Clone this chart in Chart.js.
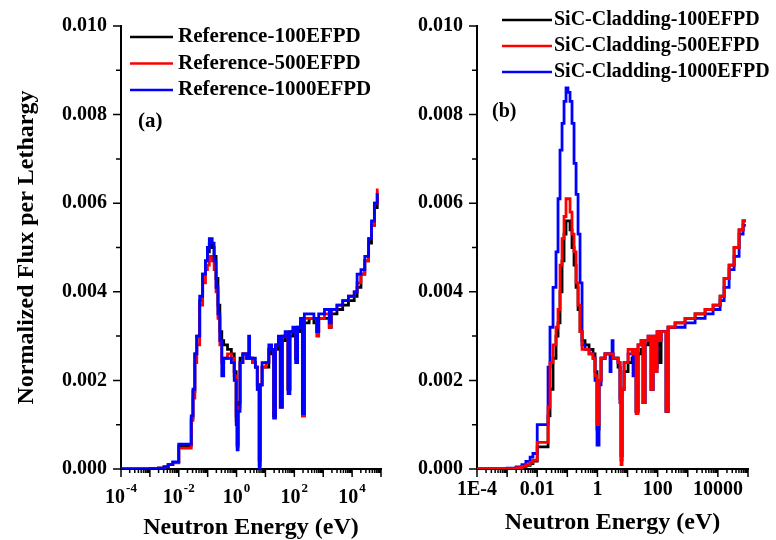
<!DOCTYPE html>
<html>
<head>
<meta charset="utf-8">
<script src="https://cdn.jsdelivr.net/npm/chart.js@4/dist/chart.umd.min.js"></script>
<style>
  html, body { margin: 0; padding: 0; background: #fff; }
  #wrap { position: relative; width: 776px; height: 540px; }
  .panel { position: absolute; top: 0; height: 540px; }
</style>
</head>
<body>
<div id="wrap">
  <div class="panel" style="left:0;width:400px"><canvas id="chartA"></canvas></div>
  <div class="panel" style="left:400px;width:376px"><canvas id="chartB"></canvas></div>
</div>
<script>
const FONT = "'Liberation Serif', 'Times New Roman', serif";

// (a) reference core - bin start energies (eV) and flux per lethargy
const energyA = [1e-4, 1e-3, 2e-3, 3.1e-3, 4.3e-3, 6.2e-3, 0.01, 0.027, 0.031, 0.036, 0.042, 0.053, 0.067, 0.084,
  0.098, 0.114, 0.143, 0.167, 0.195, 0.227, 0.264, 0.308, 0.359, 0.487, 0.66, 0.83, 0.97, 1.05, 1.13, 1.32, 1.66,
  2.25, 2.62, 2.83, 3.56, 4.48, 5.22, 6.08, 6.57, 7.65, 10.4, 13.1, 16.4, 19.2, 22.3, 28.1, 32.7, 38.1, 48, 60.4,
  70.3, 88.5, 111, 130, 163, 190, 222, 325, 476, 599, 698, 1105, 1620, 1888, 2986, 4724, 7474, 11830, 14890,
  20230, 27480, 37280, 46900, 59000, 74200, 82000];
const ref100 = [0, 0.00001, 0.00002, 0.00005, 0.0001, 0.00015, 0.00052, 0.00115, 0.00175, 0.0026, 0.0030, 0.0038, 0.0044, 0.0047,
  0.0049, 0.0051, 0.0050, 0.0048, 0.0043, 0.0037, 0.0031, 0.0029, 0.0028, 0.0027, 0.0026, 0.0022, 0.0012, 0.00055, 0.0015, 0.0025, 0.0026,
  0.0025, 0.0025, 0.0025, 0.0024, 0.0023, 0.0019, 0.0002, 0.0019, 0.0023, 0.0023, 0.0027, 0.0026, 0.0012, 0.0027, 0.0029, 0.0014, 0.0029, 0.0030, 0.0018,
  0.0030, 0.0031, 0.0025, 0.0031, 0.0033, 0.0012, 0.0033, 0.0034, 0.0033, 0.0031, 0.0034, 0.0034, 0.0032, 0.0035, 0.0036, 0.0037, 0.0038, 0.0039, 0.0041,
  0.0044, 0.0047, 0.0051, 0.0055, 0.0059, 0.0062, 0.0062];
const ref500 = [0, 0.00001, 0.00002, 0.00005, 0.0001, 0.00014, 0.00047, 0.0011, 0.0016, 0.0024, 0.0028, 0.0037, 0.0042, 0.0045,
  0.0046, 0.0048, 0.0047, 0.0045, 0.0040, 0.0034, 0.0028, 0.0024, 0.0025, 0.0026, 0.0025, 0.0021, 0.0011, 0.0005, 0.0014, 0.0024, 0.0026,
  0.0025, 0.0025, 0.0025, 0.0024, 0.0023, 0.0018, 0.0001, 0.0019, 0.0023, 0.0024, 0.0027, 0.0027, 0.0012, 0.0028, 0.0029, 0.0014, 0.0030, 0.0030, 0.0018,
  0.0031, 0.0031, 0.0025, 0.0032, 0.0033, 0.0012, 0.0034, 0.0034, 0.0034, 0.0030, 0.0034, 0.0035, 0.0032, 0.0036, 0.0037, 0.0038, 0.0039, 0.0040, 0.0042,
  0.0044, 0.0047, 0.0052, 0.0055, 0.0060, 0.0063, 0.0063];
const ref1000 = [0, 0.00001, 0.00002, 0.00005, 0.0001, 0.00016, 0.00056, 0.0012, 0.0018, 0.0026, 0.0030, 0.0039, 0.0044, 0.0047,
  0.0050, 0.0052, 0.0051, 0.0047, 0.0041, 0.0035, 0.0029, 0.0021, 0.0025, 0.0025, 0.0024, 0.0020, 0.0010, 0.00043, 0.0013, 0.0024, 0.0026,
  0.0025, 0.0030, 0.0025, 0.0025, 0.0023, 0.0018, 0.00003, 0.0019, 0.0024, 0.0024, 0.0028, 0.0027, 0.00115, 0.0028, 0.0030, 0.0014, 0.0030, 0.0031, 0.0017,
  0.0031, 0.0032, 0.0024, 0.0032, 0.0034, 0.00125, 0.0035, 0.0035, 0.0034, 0.0031, 0.0035, 0.0036, 0.0033, 0.0036, 0.0037, 0.0038, 0.0039, 0.0040, 0.0044,
  0.0045, 0.0048, 0.0052, 0.0056, 0.0060, 0.0062, 0.0062];

// (b) SiC cladding
const energyB = [1e-4, 1e-3, 2e-3, 3.1e-3, 4.2e-3, 5.8e-3, 7.2e-3, 0.01, 0.0229, 0.0266, 0.0335, 0.0421, 0.0491, 0.0572,
  0.0667, 0.0777, 0.0905, 0.105, 0.123, 0.143, 0.167, 0.195, 0.227, 0.264, 0.308, 0.387, 0.526, 0.714, 0.832, 0.97,
  1.13, 1.32, 1.79, 2.43, 2.62, 2.83, 3.06, 3.30, 4.83, 5.63, 6.08, 6.57, 7.65, 10.4, 14.1, 15.2, 16.4, 19.2, 22.3,
  28.1, 32.7, 38.1, 48, 60.4, 70.3, 82, 95.5, 111, 130, 190, 222, 379, 813, 1750, 3760, 6930, 11830, 16080, 23560,
  34540, 50600, 68700, 85000];
const sic100 = [0, 0.00001, 0.00003, 0.00005, 0.00008, 0.00012, 0.00018, 0.0005, 0.0012, 0.0018, 0.0025, 0.0030, 0.0033, 0.0040,
  0.0047, 0.0053, 0.0056, 0.0056, 0.0054, 0.0050, 0.0046, 0.0041, 0.0036, 0.0031, 0.0029, 0.0028, 0.0027, 0.0026, 0.0022, 0.0009,
  0.0020, 0.0025, 0.0026, 0.0026, 0.0026, 0.0026, 0.0026, 0.0025, 0.0023, 0.0016, 0.0003, 0.0018, 0.0022, 0.0024, 0.0025, 0.0025, 0.0025, 0.0013, 0.0026,
  0.0027, 0.0015, 0.0028, 0.0029, 0.0018, 0.0029, 0.0023, 0.0030, 0.0024, 0.0031, 0.0013, 0.0032, 0.0033, 0.0034, 0.0035, 0.0036, 0.0037, 0.0039, 0.0043, 0.0046,
  0.0050, 0.0054, 0.0056, 0.0056];
const sic500 = [0, 0.00001, 0.00003, 0.00006, 0.0001, 0.00015, 0.0002, 0.0006, 0.0014, 0.0024, 0.0028, 0.0032, 0.0036, 0.0046,
  0.0052, 0.0057, 0.0061, 0.0061, 0.0058, 0.0053, 0.0049, 0.0042, 0.0037, 0.0031, 0.0027, 0.0027, 0.0026, 0.0025, 0.0021, 0.0010,
  0.0020, 0.0025, 0.0026, 0.0026, 0.0026, 0.0026, 0.0026, 0.0025, 0.0024, 0.0015, 0.0001, 0.0018, 0.0024, 0.0027, 0.0026, 0.0026, 0.0027, 0.00125, 0.0028,
  0.0029, 0.0015, 0.0029, 0.0030, 0.0018, 0.0030, 0.0022, 0.0031, 0.0029, 0.0031, 0.0013, 0.0032, 0.0033, 0.0034, 0.0035, 0.0036, 0.0037, 0.0039, 0.0043, 0.0046,
  0.0050, 0.0054, 0.0056, 0.0056];
const sic1000 = [0, 0.00002, 0.00005, 0.0001, 0.00017, 0.00027, 0.00035, 0.0010, 0.0023, 0.0032, 0.0041, 0.0049, 0.0061, 0.0072,
  0.0078, 0.0083, 0.0086, 0.0085, 0.0083, 0.0078, 0.0069, 0.0062, 0.0053, 0.0042, 0.0028, 0.0027, 0.0026, 0.0025, 0.0020, 0.00054,
  0.0019, 0.0025, 0.0026, 0.0026, 0.0022, 0.0026, 0.0029, 0.0025, 0.0024, 0.0015, 0.0002, 0.0018, 0.0024, 0.0026, 0.0026, 0.0021, 0.0026, 0.0013, 0.0028,
  0.0029, 0.0015, 0.0029, 0.0030, 0.0018, 0.0030, 0.0022, 0.0031, 0.0029, 0.0031, 0.0013, 0.0032, 0.0032, 0.0033, 0.0034, 0.0035, 0.0036, 0.0038, 0.0041, 0.0045,
  0.0048, 0.0053, 0.0055, 0.0055];

const labelsA = ['Reference-100EFPD', 'Reference-500EFPD', 'Reference-1000EFPD'];
const labelsB = ['SiC-Cladding-100EFPD', 'SiC-Cladding-500EFPD', 'SiC-Cladding-1000EFPD'];
const seriesColors = ['#000000', '#ff0000', '#0000ff'];

// labelled decades; panel (a) writes them as powers of ten
const majorX = [1e-4, 1e-2, 1, 1e2, 1e4];
const tickExpA = ['-4', '-2', '0', '2', '4'];
const tickTextB = ['1E-4', '0.01', '1', '100', '10000'];

Chart.defaults.font.family = FONT;
Chart.defaults.font.weight = 'bold';
Chart.defaults.color = '#000';

// every 1..9 x 10^k between 1e-4 and 1e5
const xTickValues = [];
for (let k = -4; k <= 4; k++) {
  for (let m = 1; m <= 9; m++) xTickValues.push(m * Math.pow(10, k));
}
xTickValues.push(1e5);

function toXY(energy, vals) {
  return energy.map((e, i) => ({x: e, y: vals[i]}));
}

function majorIndex(v) {
  return majorX.findIndex(m => Math.abs(Math.log10(m) - Math.log10(v)) < 1e-6);
}

const tickMarks = {
  id: 'tickMarks',
  afterDraw(chart) {
    const {ctx, chartArea: a, scales: {x, y}} = chart;
    ctx.save();
    ctx.strokeStyle = '#000';
    ctx.lineWidth = 1.5;
    ctx.beginPath();
    x.ticks.forEach(t => {
      const p = x.getPixelForValue(t.value);
      const lg = Math.log10(t.value);
      const len = Math.abs(lg - Math.round(lg)) < 1e-6 ? 8 : 4;
      ctx.moveTo(p, a.bottom);
      ctx.lineTo(p, a.bottom + len);
    });
    y.ticks.forEach(t => {
      const p = y.getPixelForValue(t.value);
      const len = Math.round(t.value * 1000) % 2 === 0 ? 8 : 5;
      ctx.moveTo(a.left - len, p);
      ctx.lineTo(a.left, p);
    });
    ctx.stroke();
    ctx.restore();
  }
};

// "10" with a raised exponent under each labelled decade
const powerLabels = {
  id: 'powerLabels',
  afterDraw(chart, args, opts) {
    if (!opts.exps) return;
    const {ctx, scales: {x}} = chart;
    ctx.save();
    ctx.fillStyle = '#000';
    ctx.textBaseline = 'alphabetic';
    ctx.textAlign = 'left';
    majorX.forEach((v, i) => {
      const px = x.getPixelForValue(v);
      ctx.font = 'bold 20px ' + FONT;
      const wBase = ctx.measureText('10').width;
      ctx.font = 'bold 13px ' + FONT;
      const wExp = ctx.measureText(opts.exps[i]).width;
      const x0 = px - (wBase + wExp + 1) / 2;
      ctx.font = 'bold 20px ' + FONT;
      ctx.fillText('10', x0, opts.baseY);
      ctx.font = 'bold 13px ' + FONT;
      ctx.fillText(opts.exps[i], x0 + wBase + 1, opts.baseY - 11);
    });
    ctx.restore();
  }
};

const lineLegend = {
  id: 'lineLegend',
  afterDraw(chart, args, opts) {
    const ctx = chart.ctx;
    ctx.save();
    ctx.font = 'bold ' + opts.size + 'px ' + FONT;
    ctx.textBaseline = 'middle';
    ctx.fillStyle = '#000';
    chart.data.datasets.forEach((ds, i) => {
      const yy = opts.y + i * opts.rowH;
      ctx.strokeStyle = ds.borderColor;
      ctx.lineWidth = 2.5;
      ctx.beginPath();
      ctx.moveTo(opts.x, yy);
      ctx.lineTo(opts.x + opts.len, yy);
      ctx.stroke();
      ctx.fillText(ds.label, opts.x + opts.len + opts.gap, yy);
    });
    ctx.fillText(opts.panel, opts.px, opts.py);
    ctx.restore();
  }
};

function makeChart(id, energy, series, labels, orders, cfg) {
  const datasets = series.map((vals, i) => ({
    label: labels[i],
    data: toXY(energy, vals),
    borderColor: seriesColors[i],
    backgroundColor: seriesColors[i],
    borderWidth: 2.8,
    pointRadius: 0,
    stepped: true,
    fill: false,
    order: orders[i]
  }));
  return new Chart(document.getElementById(id), {
    type: 'line',
    data: {datasets},
    options: {
      responsive: true,
      maintainAspectRatio: false,
      animation: false,
      layout: {padding: {top: 23, right: cfg.right, left: 0, bottom: 0}},
      plugins: {
        legend: {display: false},
        tooltip: {enabled: false},
        lineLegend: cfg.legend,
        powerLabels: {exps: cfg.exps, baseY: 503}
      },
      scales: {
        x: {
          type: 'logarithmic',
          min: 1e-4,
          max: 1e5,
          afterBuildTicks: s => { s.ticks = xTickValues.map(v => ({value: v})); },
          afterFit: s => { s.height = 71; },
          grid: {display: false, drawTicks: false},
          border: {display: true, color: '#000', width: 2},
          ticks: {
            autoSkip: false,
            maxRotation: 0,
            padding: cfg.xPad,
            font: {size: 20, weight: 'bold'},
            callback: v => {
              const i = majorIndex(v);
              return i >= 0 && cfg.tickText ? cfg.tickText[i] : '';
            }
          },
          title: {
            display: true,
            text: 'Neutron Energy (eV)',
            font: {size: 24, weight: 'bold', lineHeight: 1},
            padding: {top: 0, bottom: cfg.xTitlePad}
          }
        },
        y: {
          min: 0,
          max: 0.010,
          afterFit: s => { s.width = cfg.yWidth; },
          grid: {display: false, drawTicks: false},
          border: {display: true, color: '#000', width: 2},
          ticks: {
            stepSize: 0.001,
            autoSkip: false,
            padding: 14,
            font: {size: 20, weight: 'bold'},
            callback: v => (Math.round(v * 1000) % 2 === 0 ? v.toFixed(3) : '')
          },
          title: {
            display: cfg.yTitle,
            text: 'Normalized Flux per Lethargy',
            font: {size: 24, weight: 'bold', lineHeight: 1},
            padding: {top: 15, bottom: 0}
          }
        }
      }
    },
    plugins: [tickMarks, powerLabels, lineLegend]
  });
}

makeChart('chartA', energyA, [ref100, ref500, ref1000], labelsA, [3, 2, 1], {
  right: 8, xPad: 19, xTitlePad: 0, yWidth: 121, yTitle: true, tickText: null, exps: tickExpA,
  legend: {x: 130, y: 37, rowH: 26.5, len: 43, gap: 5, size: 21, panel: '(a)', px: 138, py: 122}
});

makeChart('chartB', energyB, [sic100, sic500, sic1000], labelsB, [3, 1, 2], {
  right: 28, xPad: 9, xTitlePad: 5, yWidth: 77, yTitle: false, tickText: tickTextB, exps: null,
  legend: {x: 102, y: 20, rowH: 26, len: 50, gap: 2, size: 20, panel: '(b)', px: 92, py: 112}
});
</script>
</body>
</html>
